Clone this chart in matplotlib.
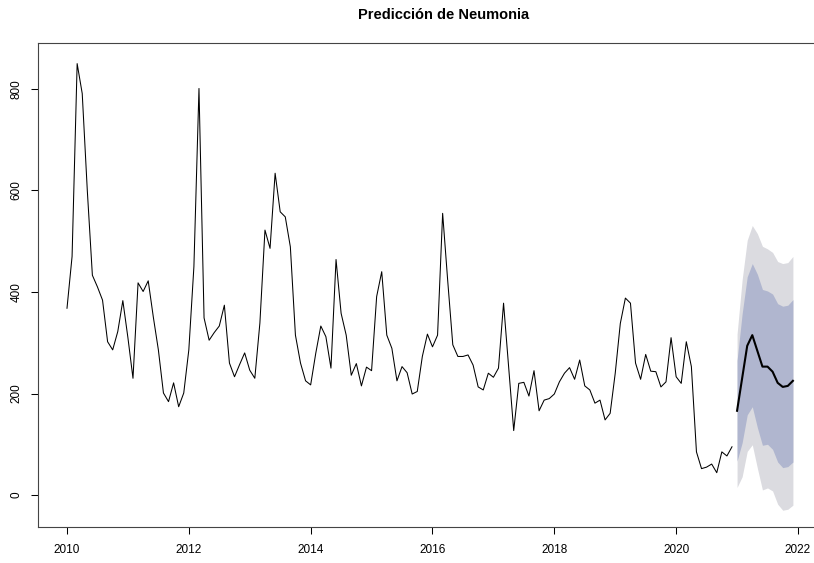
from __future__ import annotations

from pathlib import Path

import matplotlib

matplotlib.use("Agg")
import matplotlib.pyplot as plt
import numpy as np

plt.rcParams["font.family"] = ["Liberation Sans", "DejaVu Sans"]

# Monthly pneumonia cases, Jan 2010 - Dec 2020
start_year = 2010
cases_2010 = [368, 470, 850, 791, 600, 433, 410, 384, 302, 286, 322, 383]
cases_2011 = [310, 230, 418, 401, 422, 351, 286, 201, 184, 221, 174, 201]
cases_2012 = [286, 450, 801, 349, 305, 320, 333, 374, 260, 233, 257, 280]
cases_2013 = [246, 230, 339, 522, 486, 634, 558, 548, 489, 315, 260, 225]
cases_2014 = [217, 279, 333, 312, 250, 464, 358, 315, 236, 259, 215, 252]
cases_2015 = [245, 391, 440, 315, 289, 225, 253, 241, 199, 204, 273, 317]
cases_2016 = [292, 315, 555, 422, 296, 273, 273, 276, 256, 213, 207, 240]
cases_2017 = [232, 250, 378, 253, 127, 220, 222, 195, 245, 166, 187, 190]
cases_2018 = [199, 223, 240, 251, 228, 266, 215, 207, 181, 187, 148, 161]
cases_2019 = [240, 338, 388, 378, 260, 228, 277, 244, 243, 213, 223, 310]
cases_2020 = [233, 220, 302, 253, 85, 52, 55, 61, 44, 85, 77, 95]

# 12-month forecast for 2021 with 80% / 95% intervals
fc_mean = [166, 230, 294, 315, 284, 253, 253, 243, 221, 213, 215, 225]
fc_lo80 = [67, 103, 158, 174, 133, 98, 100, 90, 65, 54, 56, 65]
fc_hi80 = [265, 357, 430, 456, 435, 405, 402, 396, 377, 372, 374, 385]
fc_lo95 = [15, 36, 86, 99, 53, 10, 14, 8, -18, -30, -28, -20]
fc_hi95 = [317, 424, 502, 531, 515, 490, 485, 478, 460, 456, 458, 470]

x_ticks = [2010, 2012, 2014, 2016, 2018, 2020, 2022]
y_ticks = [0, 200, 400, 600, 800]

SHADE_95 = "#DBDBE0"
SHADE_80 = "#B0B6CF"


def save_forecast_plot(out_path: str | Path, title: str = "Predicción de Neumonia") -> Path:
    out_path = Path(out_path)

    observed = np.concatenate([
        cases_2010, cases_2011, cases_2012, cases_2013, cases_2014, cases_2015,
        cases_2016, cases_2017, cases_2018, cases_2019, cases_2020,
    ])
    t_obs = start_year + np.arange(len(observed)) / 12
    t_fc = t_obs[-1] + (np.arange(len(fc_mean)) + 1) / 12

    fig = plt.figure(figsize=(8.14, 5.63), dpi=100)
    # plot box runs past the right edge of the canvas
    ax = fig.add_axes([38 / 814, 36 / 563, 812 / 814, 484 / 563])

    ax.fill_between(t_fc, fc_lo95, fc_hi95, color=SHADE_95, lw=0)
    ax.fill_between(t_fc, fc_lo80, fc_hi80, color=SHADE_80, lw=0)
    ax.plot(t_obs, observed, color="black", lw=0.75)
    ax.plot(t_fc, fc_mean, color="black", lw=1.5)

    ax.set_xlim(2009.524, 2022.854)
    ax.set_ylim(-63, 890.6)
    ax.set_xticks(x_ticks)
    ax.set_yticks(y_ticks)
    ax.tick_params(direction="out", length=5, width=0.75, labelsize=8.5, color="black")
    ax.tick_params(axis="x", pad=7)
    ax.tick_params(axis="y", pad=6)
    for lbl in ax.get_yticklabels():
        lbl.set_rotation(90)
        lbl.set_va("center")
        lbl.set_ha("right")
    for side in ax.spines.values():
        side.set_linewidth(0.8)
        side.set_color("#444444")

    fig.text(444 / 814, 1 - 15 / 563, title, ha="center", va="center",
             fontsize=10.5, fontweight="bold")

    fig.savefig(out_path, facecolor="white")
    plt.close(fig)
    return out_path


if __name__ == "__main__":
    save_forecast_plot("out.png")
